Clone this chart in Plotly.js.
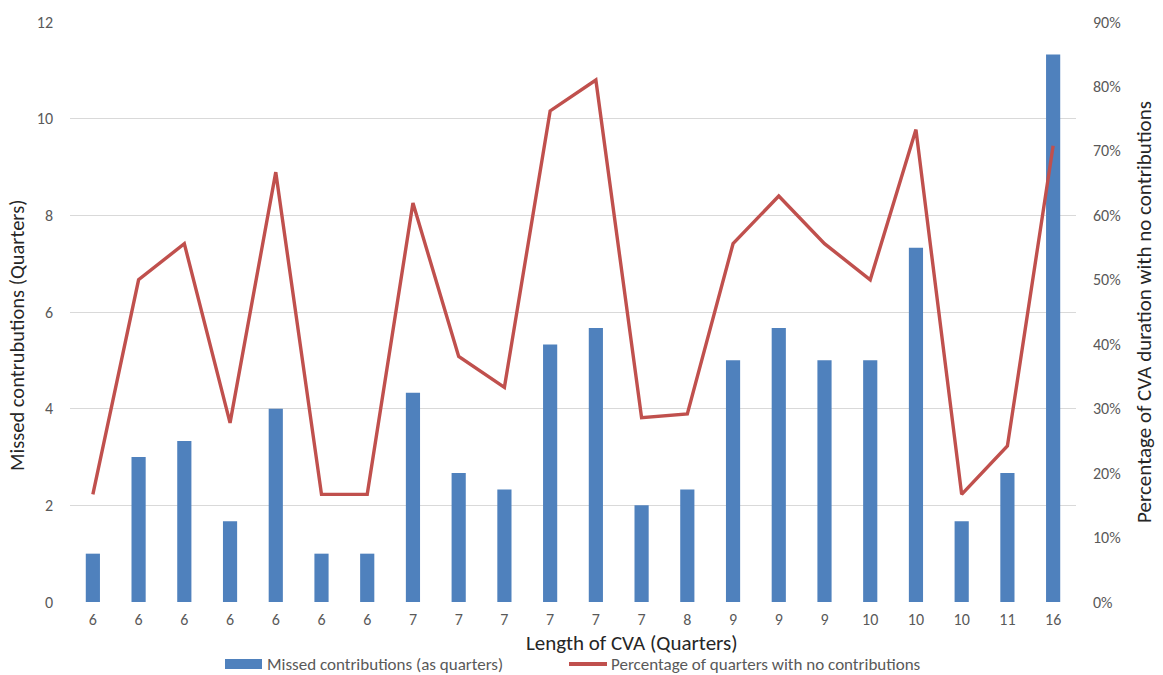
<!DOCTYPE html>
<html>
<head>
<meta charset="utf-8">
<script src="https://cdn.plot.ly/plotly-3.0.1.min.js"></script>
<style>
html, body { margin: 0; padding: 0; background: #ffffff; }
#chart { width: 1163px; height: 675px; }
</style>
</head>
<body>
<div id="chart"></div>
<script>
// Length of CVA (quarters) for each case, in chart order
const lengthLabels = ['6','6','6','6','6','6','6','7','7','7','7','7','7','8','9','9','9','10','10','10','11','16'];
// Missed contributions (as quarters)
const missedContributions = [1, 3, 3.33, 1.67, 4, 1, 1, 4.33, 2.67, 2.33, 5.33, 5.67, 2, 2.33, 5, 5.67, 5, 5, 7.33, 1.67, 2.67, 11.33];
// Percentage of quarters with no contributions
const pctNoContributions = [0.167, 0.50, 0.556, 0.278, 0.667, 0.167, 0.167, 0.619, 0.381, 0.333, 0.762, 0.810, 0.286, 0.292, 0.556, 0.630, 0.556, 0.50, 0.733, 0.167, 0.242, 0.708];
// Left and right axis ticks
const leftTicks = [0, 2, 4, 6, 8, 10, 12];
const rightTicks = [0, 0.1, 0.2, 0.3, 0.4, 0.5, 0.6, 0.7, 0.8, 0.9];
// Series names (legend) and titles
const barName = 'Missed contributions (as quarters)';
const lineName = 'Percentage of quarters with no contributions';
const xTitle = 'Length of CVA (Quarters)';
const yLeftTitle = 'Missed contrubutions (Quarters)';
const yRightTitle = 'Percentage of CVA duration with no contributions';

const caseIndex = lengthLabels.map((_, i) => i);

const FONT = "Carlito, Calibri, Lato, sans-serif";
const BAR_COLOR = '#4F81BD';
const LINE_COLOR = '#C0504D';
const TITLE_COLOR = '#262626';
const TICK_COLOR = '#595959';

const traces = [
  {
    type: 'bar',
    name: barName,
    x: caseIndex,
    y: missedContributions,
    yaxis: 'y',
    marker: { color: BAR_COLOR, line: { width: 0 } },
    hoverinfo: 'y'
  },
  {
    type: 'scatter',
    mode: 'lines',
    name: lineName,
    x: caseIndex,
    y: pctNoContributions,
    yaxis: 'y2',
    line: { color: LINE_COLOR, width: 3.4 },
    hoverinfo: 'y'
  }
];

// Legend drawn below the plot (symbols sized in pixels relative to the plot area's bottom-left corner)
const legendShapes = [
  { type: 'rect', xref: 'paper', yref: 'paper', xsizemode: 'pixel', ysizemode: 'pixel',
    xanchor: 0, yanchor: 0, x0: 155, x1: 192, y0: -67, y1: -57,
    fillcolor: BAR_COLOR, line: { width: 0 } },
  { type: 'line', xref: 'paper', yref: 'paper', xsizemode: 'pixel', ysizemode: 'pixel',
    xanchor: 0, yanchor: 0, x0: 499, x1: 537, y0: -62, y1: -62,
    line: { color: LINE_COLOR, width: 4 } }
];
const textNotes = [
  { text: barName, xref: 'paper', yref: 'paper', x: 0, y: 0, xshift: 196, yshift: -62,
    xanchor: 'left', yanchor: 'middle', showarrow: false, borderpad: 0,
    font: { family: FONT, size: 17, color: TICK_COLOR } },
  { text: lineName, xref: 'paper', yref: 'paper', x: 0, y: 0, xshift: 540, yshift: -62,
    xanchor: 'left', yanchor: 'middle', showarrow: false, borderpad: 0,
    font: { family: FONT, size: 17, color: TICK_COLOR } },
  // x-axis title (placed where the reference has it, right of centre)
  { text: xTitle, xref: 'paper', yref: 'paper', x: 0, y: 0, xshift: 562, yshift: -41,
    xanchor: 'center', yanchor: 'middle', showarrow: false, borderpad: 0,
    font: { family: FONT, size: 21, color: TITLE_COLOR } },
  // left y-axis title (slightly below centre, as in the reference)
  { text: yLeftTitle, xref: 'paper', yref: 'paper', x: 0, y: 0, xshift: -53, yshift: 266,
    xanchor: 'center', yanchor: 'middle', textangle: -90, showarrow: false, borderpad: 0,
    font: { family: FONT, size: 20.5, color: TITLE_COLOR } }
];

const layout = {
  width: 1163,
  height: 675,
  margin: { l: 70, r: 87, t: 22, b: 73 },
  paper_bgcolor: '#ffffff',
  plot_bgcolor: '#ffffff',
  font: { family: FONT, color: TICK_COLOR, size: 16 },
  bargap: 0.69,
  showlegend: false,
  shapes: legendShapes,
  annotations: textNotes,
  xaxis: {
    range: [-0.5, lengthLabels.length - 0.5],
    tickmode: 'array',
    tickvals: caseIndex,
    ticktext: lengthLabels,
    showgrid: false,
    zeroline: false,
    showline: false,
    ticks: '',
    ticklabelstandoff: 6,
    tickfont: { family: FONT, size: 16, color: TICK_COLOR },
    automargin: false,
    fixedrange: true
  },
  yaxis: {
    range: [0, 12],
    tickmode: 'array',
    tickvals: leftTicks,
    ticktext: leftTicks.map(String),
    showgrid: true,
    gridcolor: '#D9D9D9',
    gridwidth: 1,
    zeroline: false,
    showline: false,
    ticks: '',
    ticklabelstandoff: 16,
    tickfont: { family: FONT, size: 16, color: TICK_COLOR },
    automargin: false,
    fixedrange: true
  },
  yaxis2: {
    range: [0, 0.9],
    overlaying: 'y',
    side: 'right',
    tickmode: 'array',
    tickvals: rightTicks,
    ticktext: rightTicks.map(v => Math.round(v * 100) + '%'),
    showgrid: false,
    zeroline: false,
    showline: false,
    ticks: '',
    ticklabelstandoff: 16,
    tickfont: { family: FONT, size: 16, color: TICK_COLOR },
    title: { text: yRightTitle, font: { family: FONT, size: 21, color: TITLE_COLOR }, standoff: 16 },
    automargin: false,
    fixedrange: true
  }
};

Plotly.newPlot('chart', traces, layout, { displayModeBar: false, staticPlot: true });
</script>
</body>
</html>
